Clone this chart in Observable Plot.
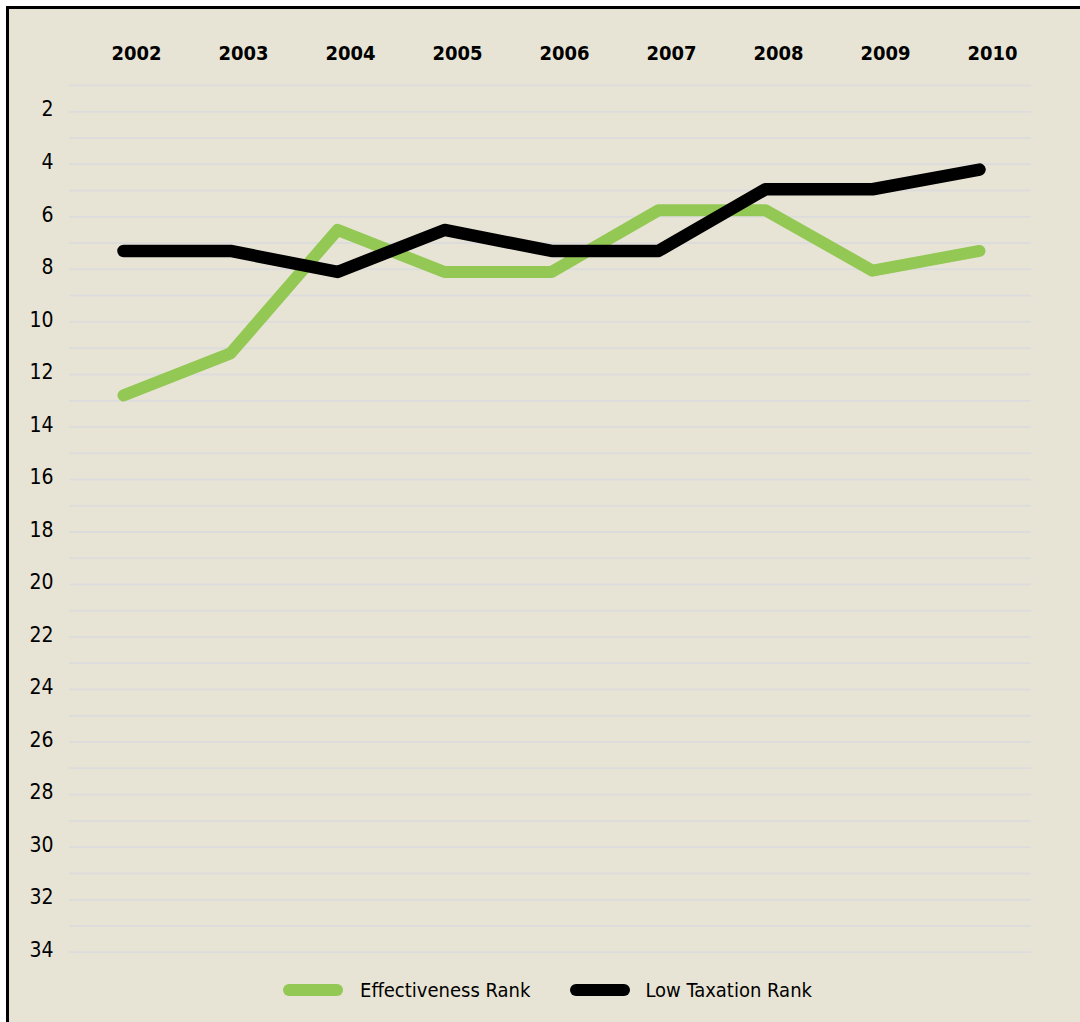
<!DOCTYPE html>
<html>
<head>
<meta charset="utf-8">
<script src="https://cdn.jsdelivr.net/npm/d3@7"></script>
<script src="https://cdn.jsdelivr.net/npm/@observablehq/plot@0.6"></script>
<style>
  html, body { margin: 0; padding: 0; background: #ffffff; }
  body { width: 1080px; height: 1022px; overflow: hidden; position: relative; }
  #panel {
    position: absolute; left: 6px; top: 6px; width: 1071px; height: 1013px;
    border-left: 3px solid #000; border-top: 3px solid #000;
    background: #e8e4d5;
    font-family: "DejaVu Sans Condensed", "Liberation Sans Narrow", sans-serif;
  }
  #chart svg { display: block; }
  #legend {
    display: flex; justify-content: center; align-items: center;
    height: 42px; padding-left: 6px; color: #000; font-size: 20px;
  }
  .item { display: flex; align-items: center; }
  .sw { width: 60px; height: 12px; border-radius: 6px; margin-right: 17px; }
  .gap { width: 40px; }
</style>
</head>
<body>
<div id="panel">
  <div id="chart"></div>
  <div id="legend"></div>
</div>
<script>
const years = [2002, 2003, 2004, 2005, 2006, 2007, 2008, 2009, 2010];
const effectivenessRank = [12.8, 11.2, 6.5, 8.1, 8.1, 5.75, 5.75, 8.05, 7.3];
const lowTaxationRank = [7.3, 7.3, 8.1, 6.5, 7.3, 7.3, 4.95, 4.95, 4.2];
const yTickLabels = [2, 4, 6, 8, 10, 12, 14, 16, 18, 20, 22, 24, 26, 28, 30, 32, 34];
const gridValues = d3.range(1, 35);
const seriesNames = ["Effectiveness Rank", "Low Taxation Rank"];
const seriesColors = ["#93c854", "#000000"];

const effData = years.map((y, i) => ({year: y, value: effectivenessRank[i]}));
const taxData = years.map((y, i) => ({year: y, value: lowTaxationRank[i]}));

const fontFamily = '"DejaVu Sans Condensed", "Liberation Sans Narrow", sans-serif';

const chart = Plot.plot({
  width: 1071,
  height: 960,
  marginLeft: 60,
  marginRight: 49,
  marginTop: 0,
  marginBottom: 0,
  style: {background: "transparent", fontFamily, color: "#000"},
  x: {type: "point", domain: years, range: [113, 971], padding: 0, axis: null},
  y: {type: "linear", domain: [1, 34], range: [76, 942.7], axis: null},
  marks: [
    Plot.gridY(gridValues, {stroke: "#dcdcdc", strokeOpacity: 1, strokeWidth: 2}),
    Plot.axisY(yTickLabels, {anchor: "left", label: null, tickSize: 0, tickPadding: 16, fontSize: 21, dy: -2, fill: "#000"}),
    Plot.text(years, {x: d => d, text: d => String(d), frameAnchor: "top", dy: 44, dx: 13,
      lineAnchor: "middle", fontSize: 20, fontWeight: "bold", fill: "#000"}),
    Plot.line(effData, {x: "year", y: "value", stroke: seriesColors[0], strokeWidth: 12,
      strokeLinecap: "round", strokeLinejoin: "round"}),
    Plot.line(taxData, {x: "year", y: "value", stroke: seriesColors[1], strokeWidth: 12.5,
      strokeLinecap: "round", strokeLinejoin: "round"})
  ]
});
document.getElementById("chart").appendChild(chart);

const legend = document.getElementById("legend");
seriesNames.forEach((name, i) => {
  if (i > 0) { const g = document.createElement("div"); g.className = "gap"; legend.appendChild(g); }
  const item = document.createElement("div");
  item.className = "item";
  const sw = document.createElement("div");
  sw.className = "sw";
  sw.style.background = seriesColors[i];
  if (i === 1) sw.style.marginRight = "15px";
  const t = document.createElement("span");
  t.textContent = name;
  item.appendChild(sw);
  item.appendChild(t);
  legend.appendChild(item);
});
</script>
</body>
</html>
